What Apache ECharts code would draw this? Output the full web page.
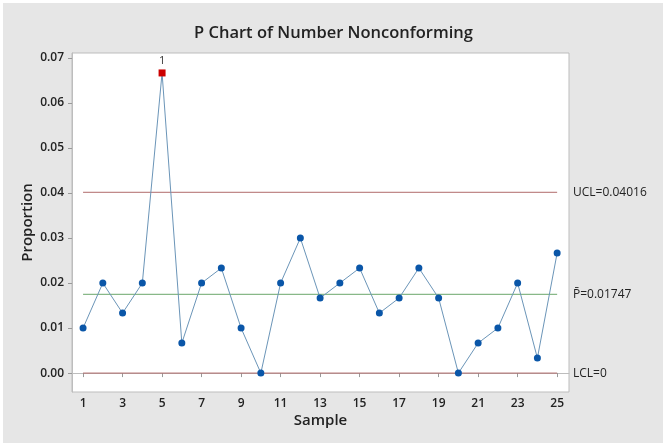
<!DOCTYPE html>
<html><head><meta charset="utf-8">
<script src="https://cdn.jsdelivr.net/npm/echarts@6/dist/echarts.min.js"></script>
<style>html,body{margin:0;padding:0;background:#fff;}#c{width:667px;height:446px;}</style>
</head><body><div id="c"></div>
<script>
const samples = [1,2,3,4,5,6,7,8,9,10,11,12,13,14,15,16,17,18,19,20,21,22,23,24,25];
const proportions = [0.01,0.02,0.01333,0.02,0.06667,0.00667,0.02,0.02333,0.01,0,0.02,0.03,0.01667,0.02,0.02333,0.01333,0.01667,0.02333,0.01667,0,0.00667,0.01,0.02,0.00333,0.02667];
const failedTests = [0,0,0,0,1,0,0,0,0,0,0,0,0,0,0,0,0,0,0,0,0,0,0,0,0];
const UCL = 0.04016, PBAR = 0.01747, LCL = 0;
const xTicks = [1,3,5,7,9,11,13,15,17,19,21,23,25];
const yTicks = [0,0.01,0.02,0.03,0.04,0.05,0.06,0.07];
const limitLabels = ['UCL=0.04016', 'P\u0304=0.01747', 'LCL=0'];

const font = 'Open Sans, Noto Sans, sans-serif';
const chart = echarts.init(document.getElementById('c'));
const pts = samples.map((s,i)=>({
  value:[s, proportions[i]],
  symbol: failedTests[i] ? 'rect' : 'circle',
  symbolSize: 7,
  itemStyle:{color: failedTests[i] ? '#cc0000' : '#0a56a8'},
  label: failedTests[i] ? {show:true, formatter:'1', position:'top', distance:3, color:'#333', fontSize:11, fontFamily:font} : {show:false}
}));
const first = samples[0], last = samples[samples.length-1];
const bgRect = {type:'rect', z:-10, silent:true, shape:{x:3,y:3,width:660,height:440}, style:{fill:'#e6e6e6'}};
chart.setOption({
  animation:false,
  backgroundColor:'transparent',
  title:{text:'P Chart of Number Nonconforming', left:'center', top:20,
    textStyle:{fontFamily:font, fontSize:16.5, fontWeight:600, color:'#222'}},
  grid:{left:72, top:53, right:98, bottom:54, show:true, borderColor:'#bdbdbd', borderWidth:1, backgroundColor:'#fff'},
  xAxis:{type:'value', min:0.44, max:25.6, name:'Sample', nameLocation:'middle', nameGap:21, nameMoveOverlap:false,
    nameTextStyle:{fontFamily:font, fontSize:15, fontWeight:600, color:'#222'},
    axisLine:{show:true, lineStyle:{color:'#bdbdbd'}}, splitLine:{show:false},
    axisTick:{show:true, length:4, lineStyle:{color:'#999'}, customValues:xTicks},
    axisLabel:{customValues:xTicks, fontFamily:font, fontSize:12, fontWeight:600, color:'#222', margin:6}},
  yAxis:{type:'value', min:-0.0042, max:0.0711, name:'Proportion', nameLocation:'middle', nameGap:37, nameRotate:90, nameMoveOverlap:false,
    nameTextStyle:{fontFamily:font, fontSize:15, fontWeight:600, color:'#222'},
    axisLine:{show:true, lineStyle:{color:'#bdbdbd'}}, splitLine:{show:false},
    axisTick:{show:true, length:4, lineStyle:{color:'#999'}, customValues:yTicks},
    axisLabel:{customValues:yTicks, formatter:v=>v.toFixed(2), fontFamily:font, fontSize:12, fontWeight:600, color:'#222', margin:8}},
  graphic:[bgRect],
  series:[
    {type:'line', data:[[first,UCL],[last,UCL]], symbol:'none', lineStyle:{color:'#b06a6a', width:1}, silent:true, z:1},
    {type:'line', data:[[first,PBAR],[last,PBAR]], symbol:'none', lineStyle:{color:'#88b888', width:1.2}, silent:true, z:1},
    {type:'line', data:[[first,LCL],[last,LCL]], symbol:'none', lineStyle:{color:'#b06a6a', width:1}, silent:true, z:1},
    {type:'line', data:pts, lineStyle:{color:'#6b95b8', width:1}, showAllSymbol:true, z:3}
  ]
});
const rightX = chart.convertToPixel({gridIndex:0}, [25.6, 0])[0] + 4;
const vals = [UCL, PBAR, LCL];
const g = [bgRect];
vals.forEach((v,i)=>{
  const y = chart.convertToPixel({gridIndex:0}, [1, v])[1];
  g.push({type:'text', x:rightX, y:y, style:{text:limitLabels[i], fontFamily:font, fontSize:12, fill:'#222', verticalAlign:'middle', align:'left'}});
});
chart.setOption({graphic:g}, {replaceMerge:['graphic']});
</script></body></html>
